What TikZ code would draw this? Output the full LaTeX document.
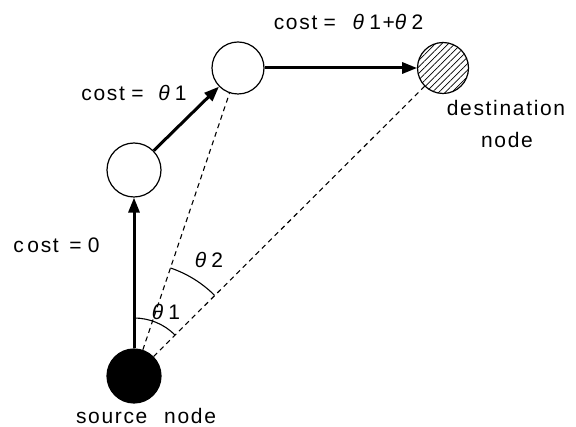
\documentclass[tikz,border=0pt]{standalone}
\usepackage{fontspec}
\setmainfont{Liberation Sans}
\newfontfamily\lbl[LetterSpace=8]{Liberation Sans}
\usetikzlibrary{arrows.meta,patterns.meta,calc}
\newcommand{\thet}{\textit{θ}}
\begin{document}
\begin{tikzpicture}[x=1pt,y=-1pt,
  vertex/.style={circle,draw=black,line width=1.2pt,inner sep=0pt},
  cost/.style={-{Triangle[length=15pt,width=11pt]},line width=3pt},
  sight/.style={line width=1.1pt,dash pattern=on 5pt off 4pt},
  angarc/.style={line width=1.1pt},
  txt/.style={font=\lbl\fontsize{21}{24}\selectfont,inner sep=0pt,anchor=base}]
\useasboundingbox (0,0) rectangle (576,427);
\node[vertex,fill=black,minimum size=54pt] (src) at (134,376) {};
\node[vertex,fill=white,minimum size=54pt] (n1) at (134,170) {};
\node[vertex,fill=white,minimum size=52pt] (n2) at (238,68) {};
\node[vertex,pattern={Lines[angle=45,distance=4.6pt,line width=0.7pt]},minimum size=51pt] (dst) at (443,68) {};
\draw[cost] (src) -- (n1);
\draw[cost] (n1) -- (n2);
\draw[cost] (n2) -- (dst);
\draw[sight] (src) -- (n2);
\draw[sight] (src) -- (dst);
\draw[angarc] ($(src.center)+(0,-58)$) arc[start angle=-90,end angle=-45,radius=58];
\coordinate (a2) at ($(src.center)!114pt!(n2.center)$);
\draw[angarc] let \p1=($(n2)-(src)$), \n1={atan2(\y1,\x1)} in
  (a2) arc[start angle={-\n1},end angle=-45,radius=114];
\node[txt] (c0) at (56.5,253) {c\,ost\hspace{0.5em}=\hspace{0.3em}0};
\node[txt] (c1) at (134,101) {cost\hspace{0.3em}=\hspace{0.7em}\thet\,1};
\node[txt] (c2) at (348.5,30) {cost\hspace{0.3em}=\hspace{0.8em}\thet\,1+\thet\,2};
\node[txt] (t1) at (166,320) {\thet\,1};
\node[txt] (t2) at (209,268) {\thet\,2};
\node[txt] (d1) at (506,116) {destination};
\node[txt] (d2) at (507,148) {node};
\node[txt] (s1) at (146,424) {source\hspace{0.8em}node};
\end{tikzpicture}
\end{document}
